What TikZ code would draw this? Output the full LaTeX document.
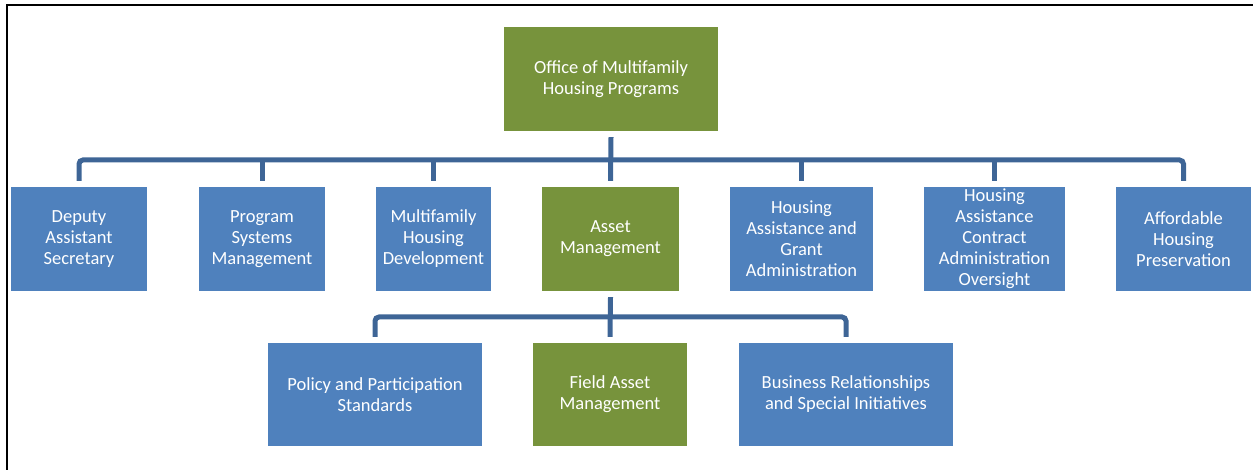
\documentclass[tikz,border=0pt]{standalone}
\usepackage{fontspec}
\setmainfont{Carlito}
\usepackage{tikz}
\usetikzlibrary{positioning}
\usetikzlibrary{calc}

\begin{document}
\begin{tikzpicture}[x=1pt,y=1pt,
  unit/.style={rectangle,inner sep=2pt,align=center,text=white,
    font=\fontsize{18.5pt}{21pt}\selectfont,minimum height=104pt},
  bluebox/.style={unit,fill=officeblue},
  greenbox/.style={unit,fill=officegreen},
  conn/.style={draw=connblue,line width=5pt,rounded corners=4pt}]
\definecolor{officeblue}{RGB}{79,129,189};
\definecolor{officegreen}{RGB}{119,147,60};
\definecolor{connblue}{RGB}{62,101,150};
\useasboundingbox (0,0) rectangle (1253,-470);
\draw [line width=2pt] (7,-470) -- (7,-5) -- (1253,-5);
% top
\node [greenbox,minimum width=214pt] (office) at (611,-79) {Office of Multifamily\\Housing Programs};
% second row
\node [bluebox,minimum width=136pt] (das) at (79,-239) {Deputy\\Assistant\\Secretary};
\node [bluebox,minimum width=126pt] (psm) at (262,-239) {Program\\Systems\\Management};
\node [bluebox,minimum width=115pt] (mhd) at (433.5,-239) {Multifamily\\Housing\\Development};
\node [greenbox,minimum width=137pt] (am) at (610.5,-239) {Asset\\Management};
\node [bluebox,minimum width=143pt] (hag) at (801.5,-239) {Housing\\Assistance and\\Grant\\Administration};
\node [bluebox,minimum width=141pt] (hac) at (994.5,-239) {Housing\\Assistance\\Contract\\Administration\\Oversight};
\node [bluebox,minimum width=135pt] (ahp) at (1183.5,-239) {Affordable\\Housing\\Preservation};
% third row
\node [bluebox,minimum width=214pt,minimum height=103pt] (pps) at (375,-394.5) {Policy and Participation\\Standards};
\node [greenbox,minimum width=154pt,minimum height=103pt] (fam) at (610,-394.5) {Field Asset\\Management};
\node [bluebox,minimum width=214pt,minimum height=103pt] (bri) at (846,-394.5) {Business Relationships\\and Special Initiatives};
% connectors
\coordinate (bus1) at (611,-160);
\coordinate (bus2) at (610,-317);
\draw [conn] ([yshift=6pt]das.north) |- (bus1) -| ([yshift=6pt]ahp.north);
\draw [conn] ([yshift=-6pt]office.south) -- ([yshift=6pt]am.north);
\foreach \n in {psm,mhd,hag,hac}
  \draw [conn] ([yshift=6pt]\n.north) -- (\n.north |- bus1);
\draw [conn] ([yshift=6pt]pps.north) |- (bus2) -| ([yshift=6pt]bri.north);
\draw [conn] ([yshift=-6pt]am.south) -- ([yshift=6pt]fam.north);
\end{tikzpicture}
\end{document}
